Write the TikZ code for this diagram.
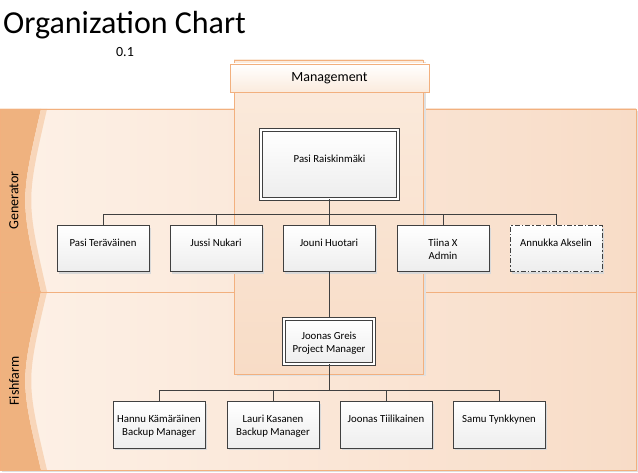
\documentclass[tikz,border=0pt]{standalone}
\usepackage{fontspec}
\setmainfont{Carlito}
\usetikzlibrary{positioning,shadows}

\definecolor{laneline}{HTML}{F2B07E}
\definecolor{headfill}{HTML}{EFB27F}
\definecolor{headstrip}{HTML}{F8D6BA}
\definecolor{laneleft}{HTML}{FDF1E7}
\definecolor{laneright}{HTML}{F8DCC7}
\definecolor{pooltop}{HTML}{FBEBDD}
\definecolor{poolbottom}{HTML}{F8DCC6}
\definecolor{boxline}{HTML}{404040}

\begin{document}
\begin{tikzpicture}[x=1pt,y=-1pt,
    lane/.style={draw=laneline,line width=0.8pt,left color=laneleft,right color=laneright,
        drop shadow={shadow xshift=2pt,shadow yshift=-2pt,fill=black!12,opacity=1}},
    lanetitle/.style={rotate=90,font=\fontsize{14}{16}\selectfont},
    pool/.style={draw=laneline,line width=0.8pt,top color=pooltop,bottom color=poolbottom,
        drop shadow={shadow xshift=3pt,shadow yshift=-2pt,fill=black!12,opacity=1}},
    poolhead/.style={draw=laneline,line width=0.8pt,top color=white,bottom color=pooltop,
        minimum width=199pt,minimum height=28pt,font=\fontsize{14}{16}\selectfont},
    person/.style={draw=boxline,line width=1pt,top color=white,bottom color=black!7,
        minimum width=92pt,minimum height=46pt,inner sep=0pt,
        drop shadow={shadow xshift=2pt,shadow yshift=-2pt,fill=black!15,opacity=1},
        font=\fontsize{10.8}{12.8}\selectfont,
        execute at begin node={\begin{minipage}[c][30pt][t]{88pt}\centering\rule{0pt}{13pt}},
        execute at end node={\end{minipage}}},
    boss/.style={person,double=white,double distance=1.6pt},
    vacant/.style={person,dash pattern=on 5pt off 2pt on 1.5pt off 2pt},
    conn/.style={draw=boxline,line width=1pt}]

    \useasboundingbox (0,0) rectangle (638,473);

    % title
    \node[anchor=base west,inner sep=0pt,font=\fontsize{32}{36}\selectfont] (title) at (3,34) {Organization Chart};
    \node[font=\fontsize{14}{16}\selectfont] (version) at (125,52) {0.1};

    % lanes
    \path[lane] (0,109) rectangle (636,292);
    \path[lane] (0,292) rectangle (636,470);
    \fill[headfill] (0,109) -- (41,109) .. controls (20,200.5) .. (41,292) -- (0,292) -- cycle;
    \fill[headstrip] (41,109) .. controls (20,200.5) .. (41,292) -- (47,292) .. controls (26,200.5) .. (47,109) -- cycle;
    \fill[headfill] (0,292) -- (41,292) .. controls (20,381) .. (41,470) -- (0,470) -- cycle;
    \fill[headstrip] (41,292) .. controls (20,381) .. (41,470) -- (47,470) .. controls (26,381) .. (47,292) -- cycle;
    \draw[laneline,line width=0.8pt] (0,109) rectangle (636,470) (0,292) -- (636,292);
    \node[lanetitle] (generator) at (14,200.5) {Generator};
    \node[lanetitle] (fishfarm) at (14,381) {Fishfarm};

    % management pool
    \path[pool] (234,60) rectangle (423,374);
    \node[poolhead] (management) at (329.5,78) {Management};

    % people
    \node[boss,minimum width=137pt,minimum height=69pt] (raiskinmaki) at (329.5,164.5) {Pasi Raiskinmäki};
    \node[person] (teravainen) at (103,249) {Pasi Teräväinen};
    \node[person] (nukari) at (216,249) {Jussi Nukari};
    \node[person] (huotari) at (329,249) {Jouni Huotari};
    \node[person] (tiina) at (443,249) {Tiina X\\Admin};
    \node[vacant] (akselin) at (556,249) {Annukka Akselin};
    \node[boss,minimum width=90pt,minimum height=45pt] (greis) at (329,341.5) {Joonas Greis\\Project Manager};
    \node[person] (kamarainen) at (159,425) {Hannu Kämäräinen\\Backup Manager};
    \node[person] (kasanen) at (273,425) {Lauri Kasanen\\Backup Manager};
    \node[person] (tiilikainen) at (386,425) {Joonas Tiilikainen};
    \node[person] (tynkkynen) at (499,425) {Samu Tynkkynen};

    % connectors
    \coordinate (bus1) at (329.5,215);
    \coordinate (bus2) at (329,391);
    \foreach \n in {teravainen,nukari,huotari,tiina,akselin}
        \draw[conn] (raiskinmaki.south) -- (bus1) -| (\n.north);
    \draw[conn] (huotari.south) -- (greis.north);
    \foreach \n in {kamarainen,kasanen,tiilikainen,tynkkynen}
        \draw[conn] (greis.south) -- (bus2) -| (\n.north);
\end{tikzpicture}
\end{document}
